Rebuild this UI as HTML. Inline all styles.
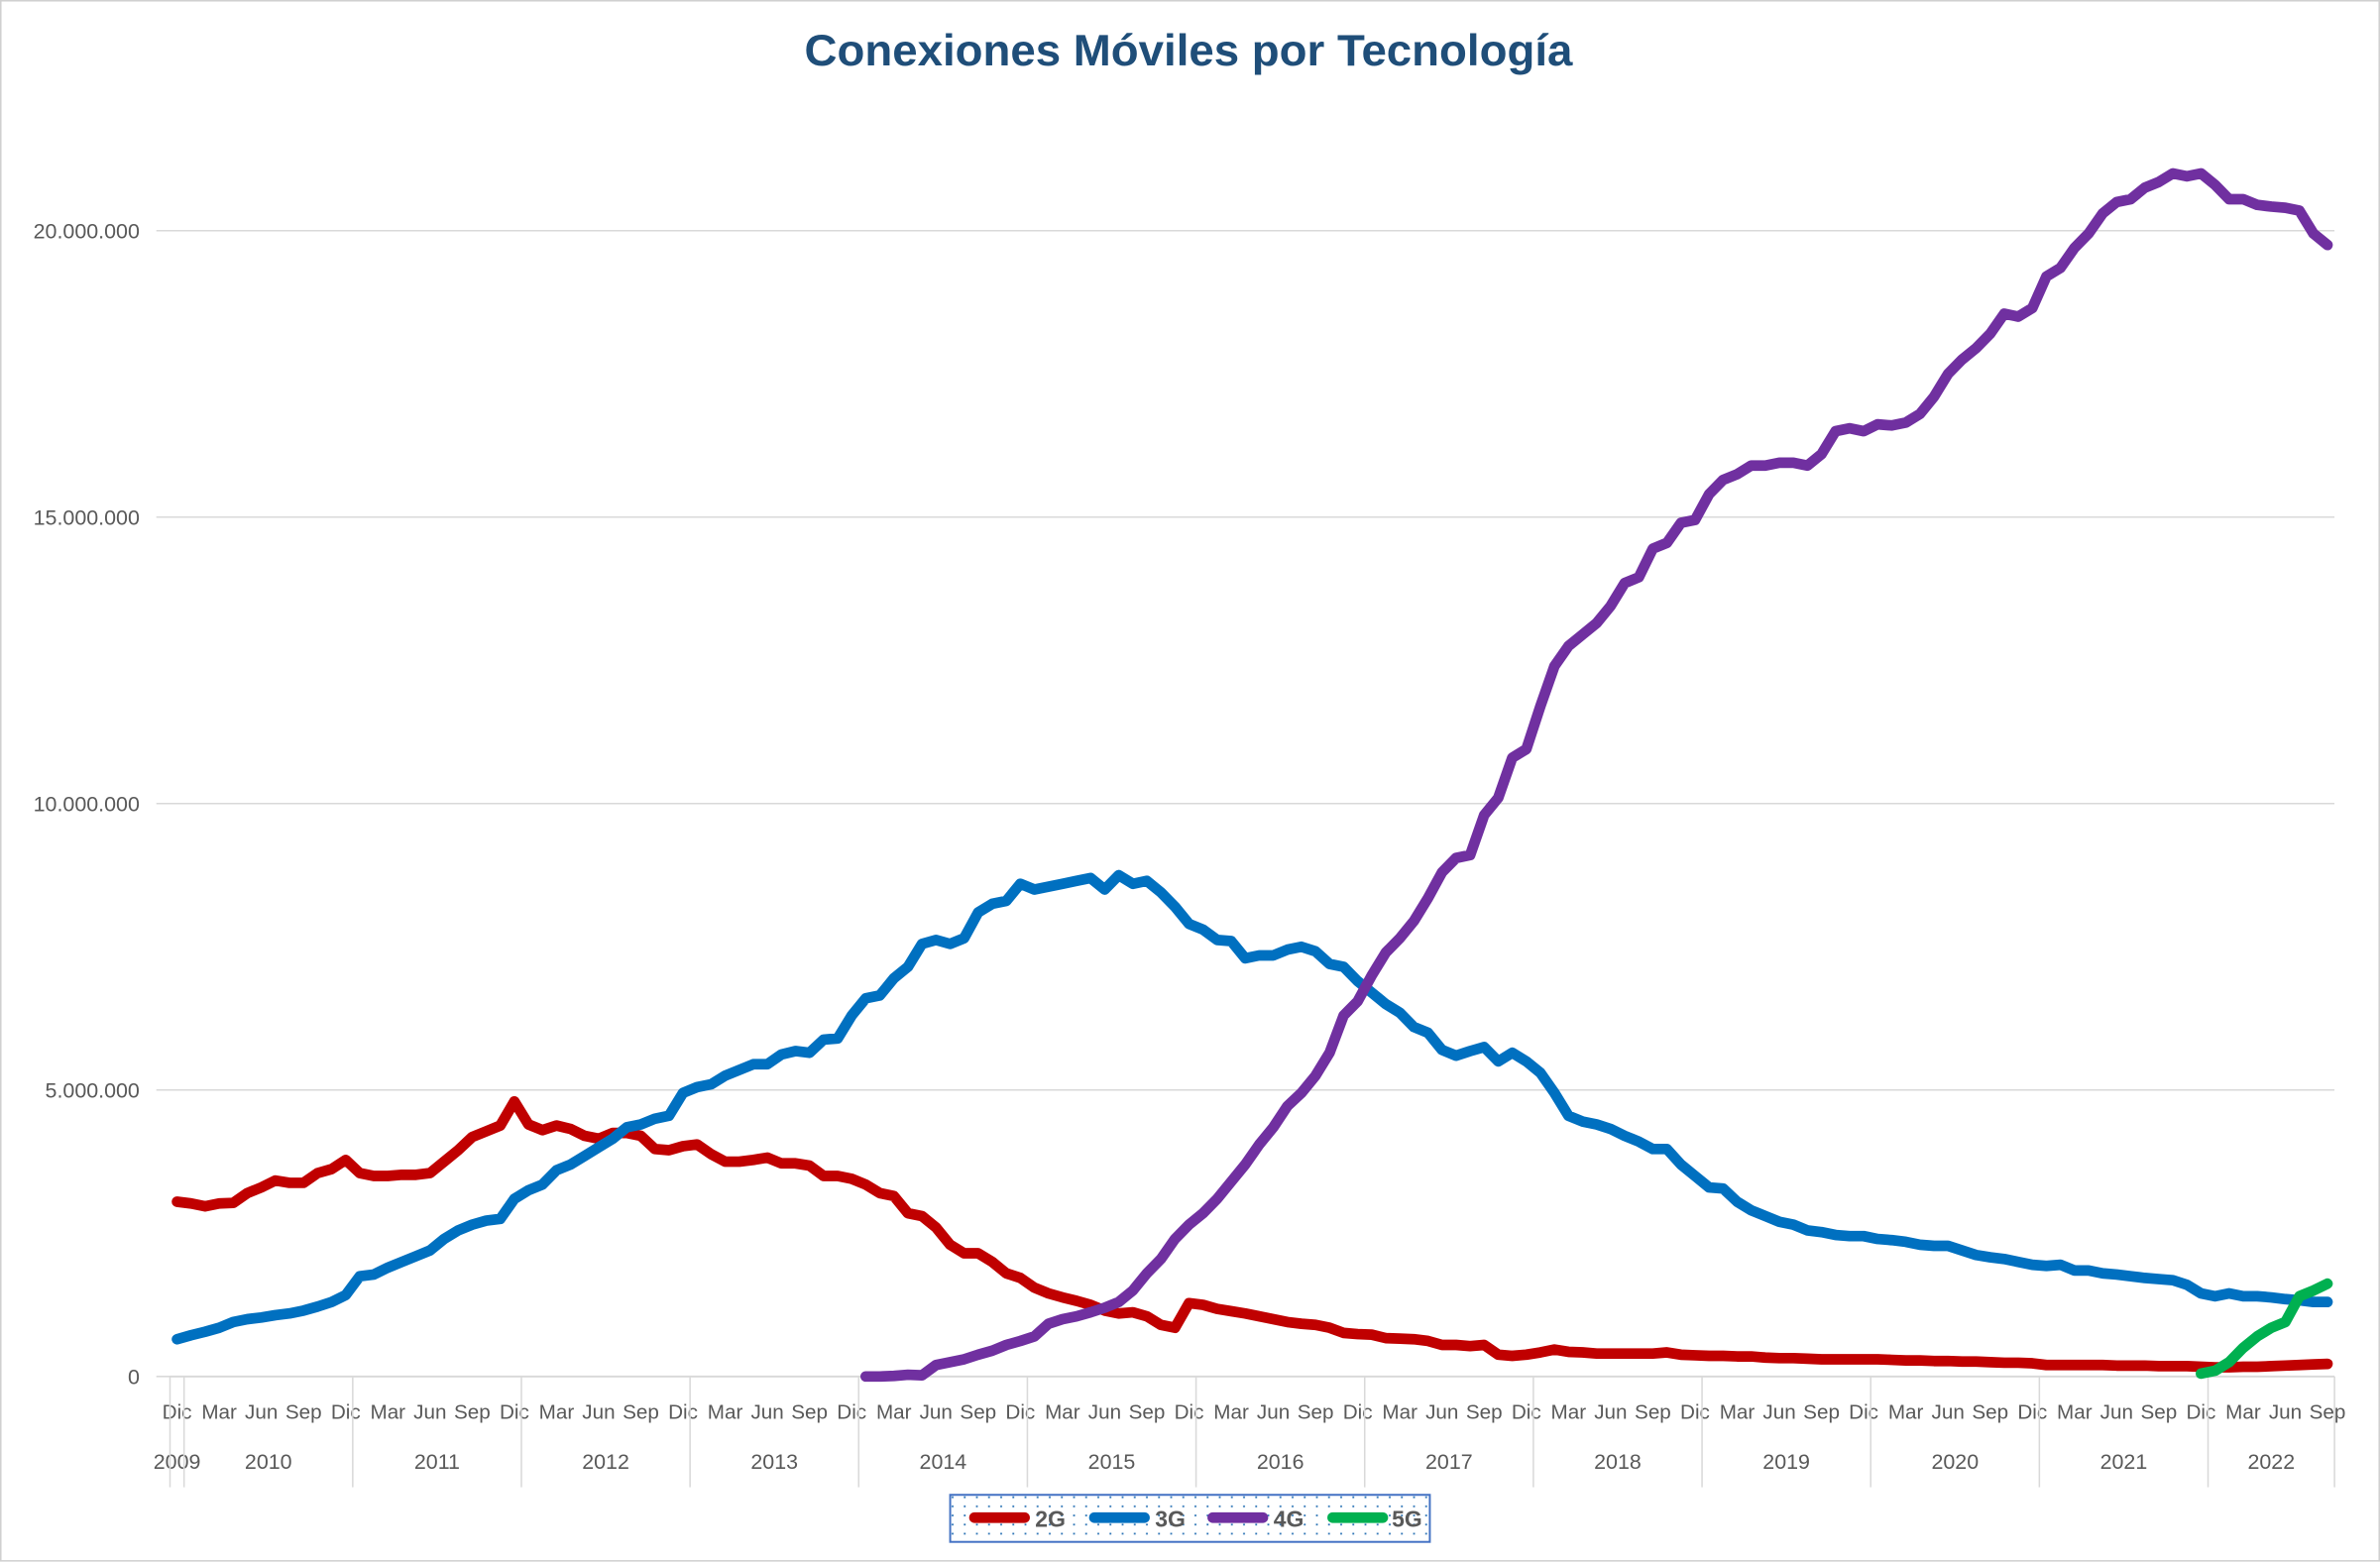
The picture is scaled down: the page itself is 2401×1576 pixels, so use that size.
<!DOCTYPE html>
<html><head><meta charset="utf-8"><title>Conexiones Móviles por Tecnología</title>
<style>html,body{margin:0;padding:0;background:#fff}svg{display:block}</style></head>
<body>
<svg id="chart" width="2401" height="1576" viewBox="0 0 1568 1029.25" preserveAspectRatio="none" xmlns="http://www.w3.org/2000/svg" font-family="'Liberation Sans', sans-serif">
<defs>
<pattern id="dots" width="8" height="6" patternUnits="userSpaceOnUse"><rect x="3" y="2" width="1.2" height="1.2" fill="#2e75b6"/></pattern>
</defs>
<rect x="0.5" y="0.5" width="1567" height="1028" fill="#fff" stroke="#d0d0d0" stroke-width="1"/>
<text x="783" y="43" text-anchor="middle" font-size="29" font-weight="bold" fill="#1f4e79" textLength="506" lengthAdjust="spacingAndGlyphs">Conexiones Móviles por Tecnología</text>
<g id="grid"></g><g id="xaxis"></g><g id="series"></g>
<g>
<rect x="626" y="985" width="316" height="31" fill="url(#dots)" stroke="#4472c4" stroke-width="1.3"/>
<g><line x1="642" y1="1000" x2="675" y2="1000" stroke="#c00000" stroke-width="7" stroke-linecap="round"/><text x="682" y="1006" font-size="15" font-weight="bold" fill="#595959">2G</text></g>
<g><line x1="721" y1="1000" x2="754" y2="1000" stroke="#0070c0" stroke-width="7" stroke-linecap="round"/><text x="761" y="1006" font-size="15" font-weight="bold" fill="#595959">3G</text></g>
<g><line x1="799" y1="1000" x2="832" y2="1000" stroke="#7030a0" stroke-width="7" stroke-linecap="round"/><text x="839" y="1006" font-size="15" font-weight="bold" fill="#595959">4G</text></g>
<g><line x1="878" y1="1000" x2="911" y2="1000" stroke="#00b050" stroke-width="7" stroke-linecap="round"/><text x="917" y="1006" font-size="15" font-weight="bold" fill="#595959">5G</text></g>
</g>
</svg>
<script>
// Monthly values in millions, Dec 2009 .. Sep 2022 (154 points)
const years = ["2009","2010","2011","2012","2013","2014","2015","2016","2017","2018","2019","2020","2021","2022"];
const yTicks = [0, 5, 10, 15, 20];
const yTickLabels = ["0","5.000.000","10.000.000","15.000.000","20.000.000"];
const monthLabels = ["Dic","Mar","Jun","Sep"];
const g2 = [3.05,
3.02,2.97,3.02,3.03,3.2,3.3,3.42,3.38,3.38,3.55,3.62,3.78,
3.55,3.5,3.5,3.52,3.52,3.55,3.75,3.95,4.18,4.28,4.38,4.8,
4.4,4.3,4.38,4.32,4.2,4.15,4.25,4.25,4.2,3.97,3.95,4.02,
4.05,3.88,3.75,3.75,3.78,3.82,3.72,3.72,3.68,3.5,3.5,3.45,
3.35,3.2,3.15,2.85,2.8,2.6,2.3,2.15,2.15,2.0,1.8,1.72,
1.55,1.45,1.38,1.32,1.25,1.15,1.1,1.12,1.05,0.9,0.85,1.28,
1.25,1.18,1.14,1.1,1.05,1.0,0.95,0.92,0.9,0.85,0.76,0.74,
0.73,0.67,0.66,0.65,0.62,0.55,0.55,0.53,0.55,0.38,0.36,0.38,
0.42,0.47,0.43,0.42,0.4,0.4,0.4,0.4,0.4,0.42,0.38,0.37,
0.36,0.36,0.35,0.35,0.33,0.32,0.32,0.31,0.3,0.3,0.3,0.3,
0.3,0.29,0.28,0.28,0.27,0.27,0.26,0.26,0.25,0.24,0.24,0.23,
0.2,0.2,0.2,0.2,0.2,0.19,0.19,0.19,0.18,0.18,0.18,0.17,
0.16,0.16,0.17,0.17,0.18,0.19,0.2,0.21,0.22];
const g3 = [0.65,
0.72,0.78,0.85,0.95,1.0,1.03,1.07,1.1,1.15,1.22,1.3,1.42,
1.75,1.78,1.9,2.0,2.1,2.2,2.4,2.55,2.65,2.72,2.75,3.1,
3.25,3.35,3.6,3.7,3.85,4.0,4.15,4.35,4.4,4.5,4.55,4.95,
5.05,5.1,5.25,5.35,5.45,5.45,5.62,5.68,5.65,5.88,5.9,6.3,
6.6,6.65,6.95,7.15,7.55,7.62,7.55,7.65,8.1,8.25,8.3,8.6,
8.5,8.55,8.6,8.65,8.7,8.5,8.75,8.6,8.65,8.45,8.2,7.9,
7.8,7.62,7.6,7.3,7.35,7.35,7.45,7.5,7.42,7.2,7.15,6.9,
6.7,6.5,6.35,6.1,6.0,5.7,5.6,5.68,5.75,5.5,5.65,5.5,
5.3,4.95,4.55,4.45,4.4,4.32,4.2,4.1,3.97,3.97,3.7,3.5,
3.3,3.28,3.05,2.9,2.8,2.7,2.65,2.55,2.52,2.47,2.45,2.45,
2.4,2.38,2.35,2.3,2.28,2.28,2.2,2.12,2.08,2.05,2.0,1.95,
1.93,1.95,1.85,1.85,1.8,1.78,1.75,1.72,1.7,1.68,1.6,1.45,
1.4,1.45,1.4,1.4,1.38,1.35,1.33,1.3,1.3];
const g4start = 49; // Jan 2014
const g4 = [
0,0,0.01,0.03,0.02,0.2,0.25,0.3,0.38,0.45,0.55,0.62,
0.7,0.92,1.0,1.05,1.12,1.2,1.3,1.5,1.8,2.05,2.4,2.65,
2.85,3.1,3.4,3.7,4.05,4.35,4.72,4.95,5.25,5.65,6.3,6.55,
7.0,7.4,7.65,7.95,8.35,8.8,9.05,9.1,9.8,10.1,10.8,10.95,
11.7,12.4,12.75,12.95,13.15,13.45,13.85,13.95,14.45,14.55,14.9,14.95,
15.4,15.65,15.75,15.9,15.9,15.95,15.95,15.9,16.1,16.5,16.55,16.5,
16.62,16.6,16.65,16.8,17.1,17.5,17.75,17.95,18.2,18.55,18.5,18.65,
19.2,19.35,19.7,19.95,20.3,20.5,20.55,20.75,20.85,21.0,20.95,21.0,
20.8,20.55,20.55,20.45,20.42,20.4,20.35,19.95,19.75];
const g5start = 144; // Dec 2021
const g5 = [0.05,0.1,0.25,0.5,0.7,0.85,0.95,1.4,1.5,1.62];

const NS = "http://www.w3.org/2000/svg";
const x0 = 112, step = 9.26, yZero = 907, yPerM = 37.75;
const N = g2.length;
function xPos(i){ return x0 + step*(i+0.5); }
function yPos(v){ return yZero - v*yPerM; }
function mk(tag, attrs, parent){ const e=document.createElementNS(NS,tag); for(const k in attrs) e.setAttribute(k,attrs[k]); parent.appendChild(e); return e; }

const grid = document.getElementById('grid');
yTicks.forEach((t,k)=>{
  const ln = mk('line',{x1:103,x2:1538,y1:yPos(t),y2:yPos(t),stroke:'#d9d9d9','stroke-width':1},grid);
  
  
  const tx = mk('text',{x:92,y:yPos(t)+5,'text-anchor':'end','font-size':14,fill:'#595959'},grid);
  tx.textContent = yTickLabels[k];
  
  
});

const xa = document.getElementById('xaxis');
for(let i=0;i<N;i+=3){
  const t = mk('text',{x:xPos(i),y:935,'text-anchor':'middle','font-size':13.5,fill:'#595959'},xa);
  t.textContent = monthLabels[(i/3)%4];
  
  
}
const bounds = [0,1];
for(let y=1;y<years.length;y++){ bounds.push(Math.min(1+12*y, N)); }
for(let y=0;y<years.length;y++){
  const a = bounds[y], b = bounds[y+1];
  const t = mk('text',{x:(x0+step*(a+b)/2),y:968,'text-anchor':'middle','font-size':14,fill:'#595959'},xa);
  t.textContent = years[y];
  
  
}
bounds.forEach(b=>{
  const l = mk('line',{x1:x0+step*b,x2:x0+step*b,y1:yZero,y2:980,stroke:'#d9d9d9','stroke-width':1},xa);
  
  
});
const ax = mk('line',{x1:x0,x2:1538,y1:yZero,y2:yZero,stroke:'#d9d9d9','stroke-width':1.2},xa);



const ser = document.getElementById('series');
function drawSeries(vals, start, color, name){
  const pts = vals.map((v,i)=> xPos(start+i).toFixed(2)+','+yPos(v).toFixed(2)).join(' ');
  const p = mk('polyline',{points:pts,fill:'none',stroke:color,'stroke-width':7,'stroke-linejoin':'round','stroke-linecap':'round'},ser);
  
  
}
drawSeries(g2,0,'#c00000','series-2g');
drawSeries(g3,0,'#0070c0','series-3g');
drawSeries(g4,g4start,'#7030a0','series-4g');
drawSeries(g5,g5start,'#00b050','series-5g');
</script>
</body></html>
